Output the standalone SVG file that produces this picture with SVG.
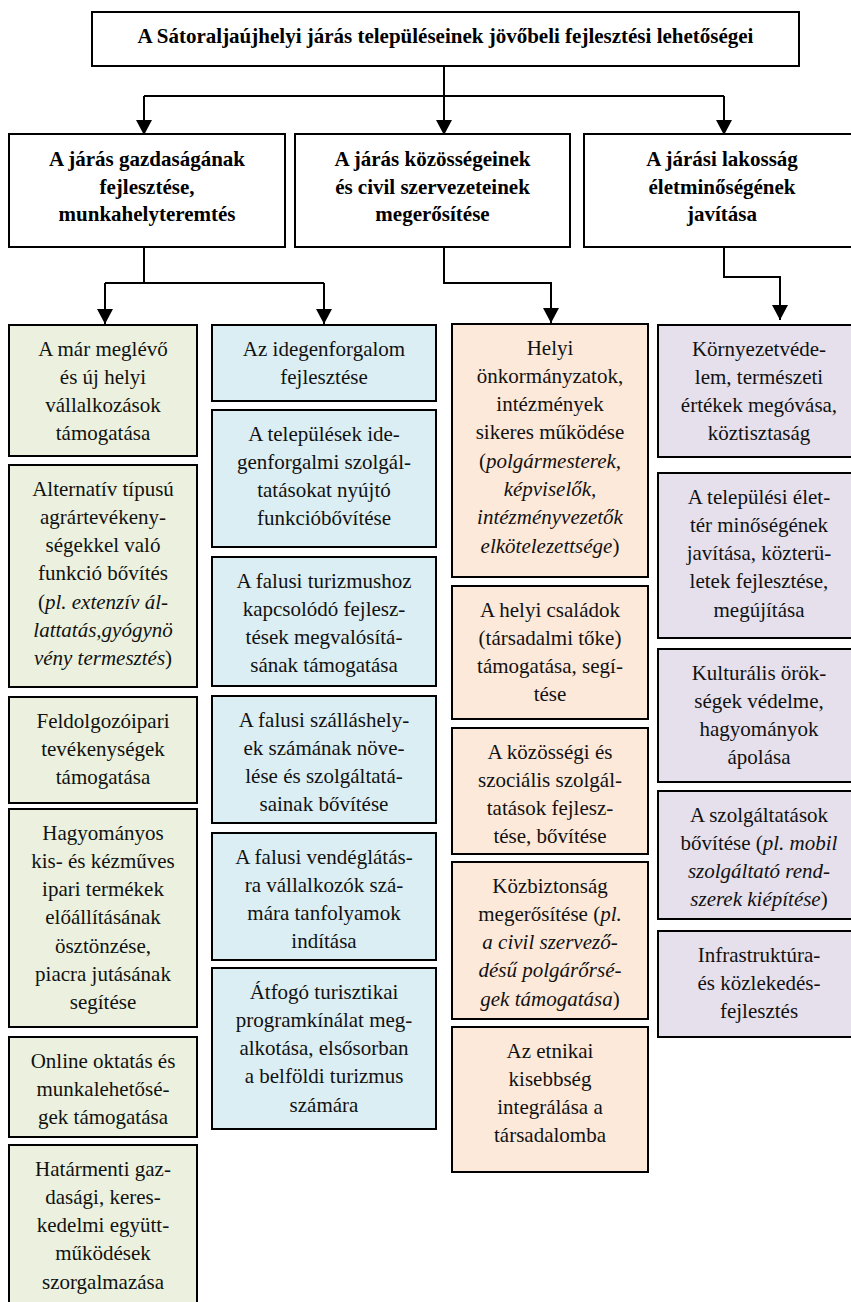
<svg xmlns="http://www.w3.org/2000/svg" width="851" height="1302" viewBox="0 0 851 1302">
<style>
.bx{stroke:#000;stroke-width:2}
.hb{fill:#fff}
.g{fill:#EBF1DE}
.b{fill:#DBEEF4}
.o{fill:#FDE9D9}
.p{fill:#E5E0EC}
.t{font-family:"Liberation Serif","Times New Roman",serif;font-size:21px;text-anchor:middle;fill:#111}
.h{font-weight:bold;fill:#000}
.i{font-style:italic}
.c{fill:none;stroke:#000;stroke-width:2}
</style>
<defs>
<marker id="ah" markerUnits="userSpaceOnUse" markerWidth="16" markerHeight="16" refX="14" refY="7.5" orient="auto" viewBox="0 0 14 15">
<path d="M0,0 L14,7.5 L0,15 z" fill="#000"/>
</marker>
</defs>
<rect width="851" height="1302" fill="#fff"/>

<g id="connectors">
<path class="c" d="M444,66 V135" stroke-width="2.5" marker-end="url(#ah)"/>
<path class="c" d="M144,96 H724"/>
<path class="c" d="M144,96 V135" marker-end="url(#ah)"/>
<path class="c" d="M724,96 V135" marker-end="url(#ah)"/>
<path class="c" d="M144,247 V283"/>
<path class="c" d="M105,283 H324"/>
<path class="c" d="M105,283 V324" marker-end="url(#ah)"/>
<path class="c" d="M324,283 V324" marker-end="url(#ah)"/>
<path class="c" d="M444,247 V283 H551 V323" marker-end="url(#ah)"/>
<path class="c" d="M724,247 V277 H780 V320" marker-end="url(#ah)"/>
</g>

<g id="title">
<rect class="bx hb" x="92" y="12" width="707" height="54"/>
<text class="t h" x="445.5" y="43">A Sátoraljaújhelyi járás településeinek jövőbeli fejlesztési lehetőségei</text>
</g>

<g id="l2-gazdasag">
<rect class="bx hb" x="9" y="134" width="276" height="113"/>
<text class="t h" y="166"><tspan x="147">A járás gazdaságának</tspan><tspan x="147" dy="27.6">fejlesztése,</tspan><tspan x="147" dy="27.6">munkahelyteremtés</tspan></text>
</g>
<g id="l2-kozosseg">
<rect class="bx hb" x="295" y="134" width="275" height="113"/>
<text class="t h" y="166"><tspan x="432.5">A járás közösségeinek</tspan><tspan x="432.5" dy="27.6">és civil szervezeteinek</tspan><tspan x="432.5" dy="27.6">megerősítése</tspan></text>
</g>
<g id="l2-eletminoseg">
<rect class="bx hb" x="584" y="134" width="276" height="113"/>
<text class="t h" y="166"><tspan x="722">A járási lakosság</tspan><tspan x="722" dy="27.6">életminőségének</tspan><tspan x="722" dy="27.6">javítása</tspan></text>
</g>

<!-- green column -->
<g id="g1">
<rect class="bx g" x="9" y="325" width="188" height="131"/>
<text class="t" y="355.5"><tspan x="103">A már meglévő</tspan><tspan x="103" dy="28.3">és új helyi</tspan><tspan x="103" dy="28.3">vállalkozások</tspan><tspan x="103" dy="28.3">támogatása</tspan></text>
</g>
<g id="g2">
<rect class="bx g" x="9" y="465" width="188" height="222"/>
<text class="t" y="495.5"><tspan x="103">Alternatív típusú</tspan><tspan x="103" dy="28.3">agrártevékeny-</tspan><tspan x="103" dy="28.3">ségekkel való</tspan><tspan x="103" dy="28.3">funkció bővítés</tspan><tspan x="103" dy="28.3">(<tspan class="i">pl. extenzív ál-</tspan></tspan><tspan x="103" dy="28.3" class="i">lattatás,gyógynö</tspan><tspan x="103" dy="28.3"><tspan class="i">vény termesztés</tspan>)</tspan></text>
</g>
<g id="g3">
<rect class="bx g" x="9" y="697" width="188" height="106"/>
<text class="t" y="727.5"><tspan x="103">Feldolgozóipari</tspan><tspan x="103" dy="28.3">tevékenységek</tspan><tspan x="103" dy="28.3">támogatása</tspan></text>
</g>
<g id="g4">
<rect class="bx g" x="9" y="809" width="188" height="218"/>
<text class="t" y="839.5"><tspan x="103">Hagyományos</tspan><tspan x="103" dy="28.3">kis- és kézműves</tspan><tspan x="103" dy="28.3">ipari termékek</tspan><tspan x="103" dy="28.3">előállításának</tspan><tspan x="103" dy="28.3">ösztönzése,</tspan><tspan x="103" dy="28.3">piacra jutásának</tspan><tspan x="103" dy="28.3">segítése</tspan></text>
</g>
<g id="g5">
<rect class="bx g" x="9" y="1037" width="188" height="100"/>
<text class="t" y="1067.5"><tspan x="103">Online oktatás és</tspan><tspan x="103" dy="28.3">munkalehetősé-</tspan><tspan x="103" dy="28.3">gek támogatása</tspan></text>
</g>
<g id="g6">
<rect class="bx g" x="9" y="1145" width="188" height="180"/>
<text class="t" y="1175.5"><tspan x="103">Határmenti gaz-</tspan><tspan x="103" dy="28.3">dasági, keres-</tspan><tspan x="103" dy="28.3">kedelmi együtt-</tspan><tspan x="103" dy="28.3">működések</tspan><tspan x="103" dy="28.3">szorgalmazása</tspan></text>
</g>

<!-- blue column -->
<g id="b1">
<rect class="bx b" x="212" y="325" width="224" height="76"/>
<text class="t" y="355.5"><tspan x="324">Az idegenforgalom</tspan><tspan x="324" dy="28.3">fejlesztése</tspan></text>
</g>
<g id="b2">
<rect class="bx b" x="212" y="410" width="224" height="137"/>
<text class="t" y="440.5"><tspan x="324">A települések ide-</tspan><tspan x="324" dy="28.3">genforgalmi szolgál-</tspan><tspan x="324" dy="28.3">tatásokat nyújtó</tspan><tspan x="324" dy="28.3">funkcióbővítése</tspan></text>
</g>
<g id="b3">
<rect class="bx b" x="212" y="557" width="224" height="129"/>
<text class="t" y="587.5"><tspan x="324">A falusi turizmushoz</tspan><tspan x="324" dy="28.3">kapcsolódó fejlesz-</tspan><tspan x="324" dy="28.3">tések megvalósítá-</tspan><tspan x="324" dy="28.3">sának támogatása</tspan></text>
</g>
<g id="b4">
<rect class="bx b" x="212" y="696" width="224" height="127"/>
<text class="t" y="726.5"><tspan x="324">A falusi szálláshely-</tspan><tspan x="324" dy="28.3">ek számának növe-</tspan><tspan x="324" dy="28.3">lése és szolgáltatá-</tspan><tspan x="324" dy="28.3">sainak bővítése</tspan></text>
</g>
<g id="b5">
<rect class="bx b" x="212" y="833" width="224" height="127"/>
<text class="t" y="863.5"><tspan x="324">A falusi vendéglátás-</tspan><tspan x="324" dy="28.3">ra vállalkozók szá-</tspan><tspan x="324" dy="28.3">mára tanfolyamok</tspan><tspan x="324" dy="28.3">indítása</tspan></text>
</g>
<g id="b6">
<rect class="bx b" x="212" y="968" width="224" height="161"/>
<text class="t" y="998.5"><tspan x="324">Átfogó turisztikai</tspan><tspan x="324" dy="28.3">programkínálat meg-</tspan><tspan x="324" dy="28.3">alkotása, elsősorban</tspan><tspan x="324" dy="28.3">a belföldi turizmus</tspan><tspan x="324" dy="28.3">számára</tspan></text>
</g>

<!-- orange column -->
<g id="o1">
<rect class="bx o" x="452" y="324" width="196" height="253"/>
<text class="t" y="354.5"><tspan x="550">Helyi</tspan><tspan x="550" dy="28.3">önkormányzatok,</tspan><tspan x="550" dy="28.3">intézmények</tspan><tspan x="550" dy="28.3">sikeres működése</tspan><tspan x="550" dy="28.3">(<tspan class="i">polgármesterek,</tspan></tspan><tspan x="550" dy="28.3" class="i">képviselők,</tspan><tspan x="550" dy="28.3" class="i">intézményvezetők</tspan><tspan x="550" dy="28.3"><tspan class="i">elkötelezettsége</tspan>)</tspan></text>
</g>
<g id="o2">
<rect class="bx o" x="452" y="586" width="196" height="133"/>
<text class="t" y="616.5"><tspan x="550">A helyi családok</tspan><tspan x="550" dy="28.3">(társadalmi tőke)</tspan><tspan x="550" dy="28.3">támogatása, segí-</tspan><tspan x="550" dy="28.3">tése</tspan></text>
</g>
<g id="o3">
<rect class="bx o" x="452" y="728" width="196" height="126"/>
<text class="t" y="758.5"><tspan x="550">A közösségi és</tspan><tspan x="550" dy="28.3">szociális szolgál-</tspan><tspan x="550" dy="28.3">tatások fejlesz-</tspan><tspan x="550" dy="28.3">tése, bővítése</tspan></text>
</g>
<g id="o4">
<rect class="bx o" x="452" y="862" width="196" height="157"/>
<text class="t" y="892.5"><tspan x="550">Közbiztonság</tspan><tspan x="550" dy="28.3">megerősítése (<tspan class="i">pl.</tspan></tspan><tspan x="550" dy="28.3" class="i">a civil szervező-</tspan><tspan x="550" dy="28.3" class="i">désű polgárőrsé-</tspan><tspan x="550" dy="28.3"><tspan class="i">gek támogatása</tspan>)</tspan></text>
</g>
<g id="o5">
<rect class="bx o" x="452" y="1027" width="196" height="145"/>
<text class="t" y="1057.5"><tspan x="550">Az etnikai</tspan><tspan x="550" dy="28.3">kisebbség</tspan><tspan x="550" dy="28.3">integrálása a</tspan><tspan x="550" dy="28.3">társadalomba</tspan></text>
</g>

<!-- purple column -->
<g id="p1">
<rect class="bx p" x="658" y="325" width="202" height="132"/>
<text class="t" y="355.5"><tspan x="759">Környezetvéde-</tspan><tspan x="759" dy="28.3">lem, természeti</tspan><tspan x="759" dy="28.3">értékek megóvása,</tspan><tspan x="759" dy="28.3">köztisztaság</tspan></text>
</g>
<g id="p2">
<rect class="bx p" x="658" y="473" width="202" height="165"/>
<text class="t" y="503.5"><tspan x="759">A települési élet-</tspan><tspan x="759" dy="28.3">tér minőségének</tspan><tspan x="759" dy="28.3">javítása, közterü-</tspan><tspan x="759" dy="28.3">letek fejlesztése,</tspan><tspan x="759" dy="28.3">megújítása</tspan></text>
</g>
<g id="p3">
<rect class="bx p" x="658" y="649" width="202" height="133"/>
<text class="t" y="679.5"><tspan x="759">Kulturális örök-</tspan><tspan x="759" dy="28.3">ségek védelme,</tspan><tspan x="759" dy="28.3">hagyományok</tspan><tspan x="759" dy="28.3">ápolása</tspan></text>
</g>
<g id="p4">
<rect class="bx p" x="658" y="791" width="202" height="128"/>
<text class="t" y="821.5"><tspan x="759">A szolgáltatások</tspan><tspan x="759" dy="28.3">bővítése (<tspan class="i">pl. mobil</tspan></tspan><tspan x="759" dy="28.3" class="i">szolgáltató rend-</tspan><tspan x="759" dy="28.3"><tspan class="i">szerek kiépítése</tspan>)</tspan></text>
</g>
<g id="p5">
<rect class="bx p" x="658" y="931" width="202" height="106"/>
<text class="t" y="961.5"><tspan x="759">Infrastruktúra-</tspan><tspan x="759" dy="28.3">és közlekedés-</tspan><tspan x="759" dy="28.3">fejlesztés</tspan></text>
</g>
</svg>
